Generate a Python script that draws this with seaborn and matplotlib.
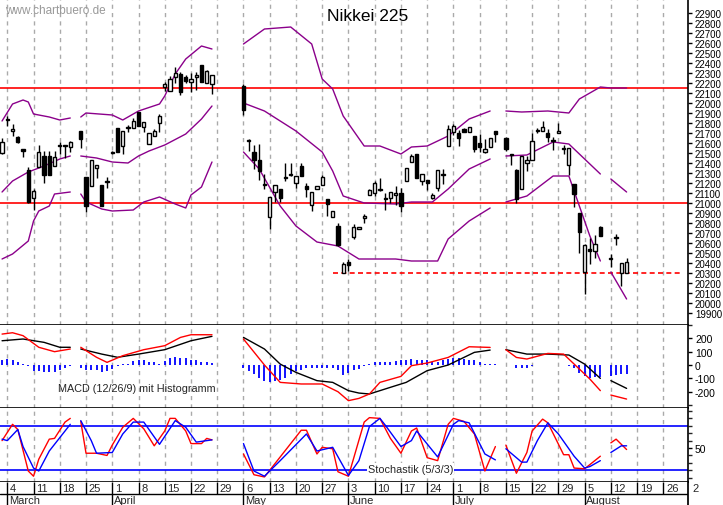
import numpy as np
import pandas as pd
import matplotlib
matplotlib.use("Agg")
import matplotlib.pyplot as plt
import matplotlib.transforms as mtrans
import seaborn as sns

# ---------------- data (trading-day index: 0 = Mon 4 March 2019) ----------------
candle_day = [-1,0,1,2,3,4,5,6,7,8,9,10,11,12,14,15,16,17,18,19,20,21,22,23,24,25,26,27,28,29,30,31,32,33,34,35,36,37,38,39,
              45,46,47,48,49,50,51,52,53,54,55,56,57,58,59,60,61,62,63,64,65,66,67,68,69,70,71,72,73,74,75,76,77,78,79,80,
              81,82,83,84,85,86,87,88,89,90,91,92,93,95,96,97,98,99,100,101,102,103,104,105,106,107,108,109,110,111,112,113,
              115,116,117,118]
candle_open = [21500,21830,21720,21660,21530,21330,21050,21360,21470,21470,21370,21570,21570,21560,21720,21260,21170,21350,21180,21210,
               21500,21750,21570,21750,21750,21910,21760,21590,21670,21800,22160,22120,22260,22290,22260,22210,22260,22380,22200,22190,
               22170,21620,21510,21430,21180,20860,21110,21140,21250,21280,21200,21370,21170,20980,21140,21180,21040,20860,20770,20300,
               20410,20660,20740,20850,21080,21100,21130,21040,21050,21080,21100,21220,21410,21490,21220,21230,21050,21150,21280,21570,
               21710,21700,21740,21710,21670,21600,21510,21560,21720,21650,21480,21330,21140,21400,21430,21720,21720,21700,21620,21700,
               21540,21380,21190,20900,20310,20540,20520,20760,20440,20650,20300,20300]
candle_high = [21650,21870,21790,21670,21530,21360,21140,21580,21520,21520,21520,21610,21580,21620,21720,21260,21430,21380,21180,21260,
               21520,21750,21720,21780,21850,21910,21810,21700,21740,21890,22210,22270,22360,22310,22280,22300,22310,22380,22330,22280,
               22190,21640,21580,21590,21290,21060,21180,21140,21400,21400,21270,21400,21200,21110,21170,21280,21040,20920,20800,20410,
               20440,20790,20760,20890,21140,21220,21250,21100,21110,21170,21150,21350,21490,21490,21290,21230,21100,21330,21340,21780,
               21790,21730,21750,21760,21670,21690,21640,21650,21720,21660,21490,21340,21470,21470,21700,21750,21820,21740,21660,21800,
               21580,21550,21190,20900,20590,20650,20680,20770,20490,20690,20400,20450]
candle_low = [21490,21770,21670,21600,21460,21000,20930,21360,21200,21280,21370,21490,21450,21510,21550,20910,21170,21250,20970,21150,
              21490,21510,21490,21710,21750,21770,21710,21590,21670,21710,22120,22120,22200,22080,22200,22110,22130,22210,22200,22090,
              21880,21520,21340,21230,21140,20740,21010,21010,21220,21270,21150,21270,21060,20920,21140,21180,20870,20860,20570,20300,
              20320,20640,20740,20800,21080,21070,21120,20930,21000,20980,20910,21220,21410,21250,21180,21130,21040,21120,21190,21570,
              21680,21570,21710,21710,21510,21510,21500,21560,21610,21520,21380,21000,21140,21320,21430,21700,21720,21610,21530,21700,
              21490,21280,20960,20500,20090,20390,20450,20670,20360,20580,20170,20300]
candle_close = [21610,21835,21740,21610,21525,21010,21120,21510,21280,21280,21460,21575,21575,21610,21640,20970,21430,21380,20970,21215,
                21505,21510,21720,21755,21820,21770,21810,21700,21720,21870,22190,22240,22300,22110,22220,22240,22280,22210,22320,22280,
                21930,21625,21430,21320,21185,21060,21180,21050,21255,21290,21270,21270,21140,21110,21170,21260,20990,20920,20580,20390,
                20380,20760,20760,20870,21130,21200,21135,21045,21110,21100,20970,21350,21470,21250,21290,21200,21080,21330,21285,21740,
                21770,21650,21710,21760,21540,21560,21540,21650,21690,21540,21485,21040,21470,21430,21620,21725,21760,21660,21625,21720,
                21545,21550,21090,20710,20580,20520,20590,20670,20445,20655,20400,20410]

nan = np.nan
bb_upper_day = [-1,1,3,4,5,8,10,12,13,14,15,20,22,25,29,30,32,34,37,39,40,45,49,54,58,60,62,64,68,71,75,77,80,84,88,92,94,95,98,103,107,109,113,114,115,118]
bb_upper = [21820,21990,22030,22010,21890,21860,21830,21850,nan,21860,21900,21880,21830,21920,21990,22070,22290,22440,22570,22540,nan,
            22590,22740,22760,22590,22240,22140,21870,21570,21570,21490,21560,21570,21670,21840,21920,nan,21920,21910,21920,21900,22040,22160,22155,22150,22150]
bb_mid_day = [-1,1,4,7,10,12,13,14,17,20,23,25,27,30,34,37,39,40,45,49,55,60,62,64,68,74,77,81,84,88,92,94,95,99,104,107,113,114,115,118]
bb_mid = [21110,21220,21310,21370,21440,21470,nan,21470,21450,21410,21400,21470,21520,21580,21690,21840,21970,nan,
          22000,21920,21720,21510,21320,21070,21000,20990,21010,21010,21140,21340,21440,nan,21470,21480,21610,21590,21290,nan,21240,21110]
bb_lower_day = [-1,1,4,5,6,8,9,12,13,14,15,18,20,24,26,29,32,34,35,37,39,40,45,48,52,55,59,63,67,74,77,82,84,88,92,94,95,99,104,107,109,111,113,114,115,118]
bb_lower = [20440,20490,20620,20820,20920,20970,21090,21110,nan,21090,21010,20940,20920,20930,21010,21060,20990,20950,21080,21160,21410,nan,
            21510,21340,20970,20770,20610,20570,20440,20440,20420,20420,20640,20820,20950,nan,21010,21070,21270,21270,20970,20670,20420,nan,20310,20040]

macd_day = [-1,3,7,10,12,13,14,18,21,25,30,35,39,40,45,49,52,55,59,62,65,67,69,73,76,80,84,87,89,92,94,95,99,103,107,110,113,114,115,118]
macd_black = [182,195,170,133,133,nan,120,82,58,82,115,182,215,nan,207,120,7,-55,-117,-130,-192,-210,-217,-167,-130,-42,0,57,95,112,nan,
              115,82,82,75,7,-100,nan,-117,-175]
signal_day = [-1,1,3,6,9,12,13,14,17,19,22,26,30,33,35,39,40,45,49,52,56,60,63,65,67,69,71,75,77,80,84,88,92,94,95,97,99,103,106,109,111,113,114,115,118]
macd_red = [232,242,220,133,100,120,nan,133,58,20,70,115,145,207,227,227,nan,195,0,-130,-142,-142,-200,-267,-250,-217,-130,-85,-5,15,57,137,132,nan,
            115,57,45,87,82,-30,-105,-192,nan,-225,-255]
hist_day = list(range(-1, 13)) + list(range(14, 40)) + list(range(45, 94)) + list(range(95, 114)) + list(range(115, 119))
macd_hist = [40,45,40,20,8,-10,-45,-45,-50,-55,-50,-40,-20,-10,
             -25,-40,-40,-40,-50,-45,-30,-5,5,10,30,40,35,25,20,5,30,55,60,55,50,40,35,25,20,15,
             -25,-45,-70,-100,-120,-125,-120,-115,-95,-65,-45,-35,-25,-25,-20,-20,-20,-25,-35,-75,-60,-40,-30,-10,10,20,25,25,25,30,35,40,45,40,35,35,25,25,35,45,50,50,45,40,35,25,10,5,5,
             0,0,-25,-25,-20,-5,0,0,0,0,0,0,-5,-20,-60,-80,-100,-90,-90,
             -80,-75,-70,-70]

stoch_k_day = [-1,1,2,4,5,6,8,9,11,12,13,14,15,17,19,20,22,24,26,28,30,31,32,34,35,37,38,39,40,45,47,49,51,54,56,57,59,60,62,63,65,68,69,71,73,75,77,78,80,82,84,85,87,89,91,93,94,95,97,99,100,102,103,106,107,108,110,113,114,115,116,118]
stoch_k = [60,82,75,19,12,35,62,63,85,90,nan,86,43,43,40,54,78,90,76,53,73,90,90,73,56,56,63,61,nan,42,14,11,29,56,74,74,42,51,49,18,12,85,91,90,63,43,73,77,37,33,82,90,86,69,19,52,nan,
           54,16,44,73,89,84,41,41,23,22,39,nan,57,62,48]
stoch_d_day = [-1,0,2,3,5,6,8,10,12,13,14,16,17,20,22,24,26,29,32,34,36,39,40,45,47,49,52,57,59,62,65,67,69,71,72,75,77,78,82,85,86,88,91,93,94,95,98,99,101,103,105,108,110,111,113,114,115,117,118]
stoch_d = [62,60,75,52,23,19,46,64,82,nan,87,60,43,44,69,85,85,55,87,78,58,61,nan,56,19,12,33,69,46,51,13,33,79,90,81,52,60,73,38,82,87,84,42,34,nan,
           49,31,31,60,84,69,39,23,25,33,nan,44,53,53]

support_level = 20300
resistance_levels = [22150, 21000]
week_labels = ["4","11","18","25","1","8","15","22","29","6","13","20","27","3","10","17","24","1","8","15","22","29","5","12","19","26","2"]
month_labels = ["March","April","May","June","July","August"]
month_start_day = [0, 20, 45, 65, 85, 110]

# ---------------- figure ----------------
sns.set_theme(style="white", rc={"font.family": "Liberation Sans"})
W, H = 723, 506
fig = plt.figure(figsize=(W/100, H/100), dpi=100)
right = 688 / W
def box(top, bottom):
    return [0, 1 - bottom/H, right, (bottom - top)/H]
ax_p = fig.add_axes(box(0, 326))
ax_m = fig.add_axes(box(326, 409), sharex=ax_p)
ax_s = fig.add_axes(box(409, 483), sharex=ax_p)
ax_x = fig.add_axes(box(483, 506), sharex=ax_p)
xmin, xmax = -1.39, 129.7
ax_p.set_xlim(xmin, xmax)

def seg_plot(ax, days, vals, color, lw=1.0, ls="-"):
    d = np.asarray(days, float); v = np.asarray(vals, float)
    breaks = np.where(np.isnan(v))[0]
    start = 0
    for b in list(breaks) + [len(v)]:
        if b - start > 1:
            df = pd.DataFrame({"x": d[start:b], "y": v[start:b]})
            sns.lineplot(data=df, x="x", y="y", ax=ax, color=color, lw=lw, ls=ls,
                         estimator=None, sort=False, legend=False)
        start = b + 1

for ax in (ax_p, ax_m, ax_s, ax_x):
    for s in ax.spines.values():
        s.set_visible(False)
    ax.set_xlabel(""); ax.set_ylabel("")
    ax.tick_params(axis="x", bottom=False, labelbottom=False)
for ax in (ax_p, ax_m, ax_s):
    ax.spines["right"].set_visible(True)
    ax.spines["bottom"].set_visible(True)
    for s in ("right", "bottom"):
        ax.spines[s].set_color("black"); ax.spines[s].set_linewidth(1.2)
    ax.vlines(np.arange(0, 131, 5), 0, 1, transform=mtrans.blended_transform_factory(ax.transData, ax.transAxes),
              color="#aaaaaa", lw=1, ls=(0, (3, 3)), zorder=0)
    ax.yaxis.tick_right()
    ax.tick_params(axis="y", right=True, length=3, width=1, labelsize=7, pad=2, colors="black")

# ---- price panel ----
ax_p.set_ylim(19780, 23040)
for lvl in resistance_levels:
    ax_p.axhline(lvl, color="red", lw=1.2, zorder=1)
ax_p.hlines(support_level, 62, 128.5, color="red", lw=1.2, ls=(0, (3, 2)), zorder=1)
seg_plot(ax_p, bb_upper_day, bb_upper, "#8b008b")
seg_plot(ax_p, bb_mid_day, bb_mid, "#8b008b")
seg_plot(ax_p, bb_lower_day, bb_lower, "#8b008b")
o = np.array(candle_open); c = np.array(candle_close); hi = np.array(candle_high); lo = np.array(candle_low)
dd = np.array(candle_day)
ax_p.vlines(dd, lo, hi, color="black", lw=1, zorder=3)
up = c >= o
body = np.maximum(np.abs(c - o), 12)
ax_p.bar(dd[up], body[up], bottom=np.minimum(o, c)[up], width=0.62, color="white", edgecolor="black", lw=1, zorder=4)
ax_p.bar(dd[~up], body[~up], bottom=np.minimum(o, c)[~up], width=0.62, color="black", edgecolor="black", lw=1, zorder=4)
ax_p.set_yticks(np.arange(19900, 23000, 100))
ax_p.set_yticklabels([str(v) for v in range(19900, 23000, 100)], fontsize=7)
ax_p.text(0.008, 0.965, "www.chartbuero.de", transform=ax_p.transAxes, color="#999999", fontsize=8.5, va="center")
ax_p.text(368/688, 0.95, "Nikkei 225", transform=ax_p.transAxes, color="black", fontsize=12.5, ha="center", va="center")

# ---- MACD panel ----
ax_m.set_ylim(-322, 300)
ax_m.vlines(hist_day, 0, macd_hist, color="blue", lw=1.3, zorder=2)
seg_plot(ax_m, macd_day, macd_black, "black")
seg_plot(ax_m, signal_day, macd_red, "red")
ax_m.set_yticks([200, 100, 0, -100, -200])
ax_m.set_yticklabels(["200", "100", "0", "-100", "-200"], fontsize=7.5)
ax_m.set_yticks([-300, 300], minor=True)
ax_m.tick_params(axis="y", which="minor", right=True, length=3)
ax_m.text(9.7, -172, "MACD (12/26/9) mit Histogramm", fontsize=7.8, va="center")

# ---- Stochastic panel ----
ax_s.set_ylim(4.2, 104)
ax_s.axhline(80, color="blue", lw=1.2); ax_s.axhline(20, color="blue", lw=1.2)
seg_plot(ax_s, stoch_k_day, stoch_k, "red")
seg_plot(ax_s, stoch_d_day, stoch_d, "blue")
ax_s.set_yticks([50]); ax_s.set_yticklabels(["50"], fontsize=7.5)
ax_s.set_yticks([10, 20, 30, 40, 60, 70, 80, 90, 100], minor=True)
ax_s.tick_params(axis="y", which="minor", right=True, length=3)
ax_s.text(68.7, 22, "Stochastik (5/3/3)", fontsize=7.8, va="center",
          bbox=dict(facecolor="white", edgecolor="none", pad=0.5))

# ---- date axis ----
ax_x.set_ylim(0, 1)
ax_x.set_yticks([])
ax_x.axhline(0.48, color="black", lw=1)
ax_x.vlines(np.arange(0, 131, 5), 0.48, 1, color="black", lw=1)
for i, lab in enumerate(week_labels):
    ax_x.text(i * 5 + 0.5, 0.74, lab, fontsize=8, va="center", ha="left")
ax_x.vlines(month_start_day, 0, 0.48, color="black", lw=1)
for d0, lab in zip(month_start_day, month_labels):
    ax_x.text(d0 + 0.3, 0.2, lab, fontsize=8, va="center", ha="left")
ax_x.spines["right"].set_visible(True); ax_x.spines["right"].set_color("black")

fig.savefig("out.png", dpi=100, facecolor="white")
